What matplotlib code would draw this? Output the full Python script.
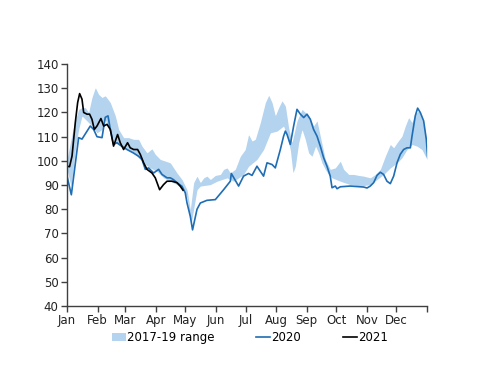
import numpy as np
import matplotlib.pyplot as plt

# ----------------------------
# Data (day of year, index value)
# ----------------------------

band_upper_days = [0, 6.8, 11.8, 15.2, 18.6, 21.9, 25.3, 28.7, 32, 35.5, 38.8, 43.9, 49, 52.4,
                   57.4, 62.5, 67.6, 72.6, 76, 81.1, 86.1, 89.5, 94.6, 99.7, 104.7, 111.5,
                   116.6, 121.7, 125, 128.4, 131.8, 135.2, 138.6, 141.9, 145.3, 150.4, 155.5,
                   158.8, 162.3, 165.6, 170.6, 175.7, 180.7, 184.1, 187.6, 190.9, 196, 201.1,
                   204.5, 207.9, 211.2, 214.6, 218, 221.4, 224.7, 228.1, 233.2, 238.3, 241.6,
                   245, 250, 253.5, 256.8, 261.9, 266.9, 272, 277.1, 280.5, 285.6, 290.6,
                   295.6, 300.7, 307.5, 312.6, 317.7, 322.7, 327.8, 331.2, 334.6, 339.6, 343,
                   346.4, 349.8, 353.1, 356.5, 359.9, 363.3, 365.6]
band_upper = [100.6, 114.4, 121.3, 122, 122, 120, 126.2, 130.3, 127.5, 126.2, 126.9, 124.1,
              118.6, 113, 109.6, 109.6, 108.9, 108.9, 106.1, 103.3, 105, 102.7, 100.6, 99.9,
              99.2, 95, 92.3, 88.1, 79.8, 91, 93.7, 91, 93, 93.7, 92.3, 94, 94.4, 96.5, 97.1,
              95, 96.5, 101.9, 104.7, 110.9, 108.2, 108.9, 115.8, 124.1, 127.1, 124.1,
              118.6, 122, 124.8, 122.7, 113.7, 107.5, 116.5, 121.3, 120, 118.6, 114.4,
              116.5, 110.2, 100.6, 96.5, 97.1, 99.9, 96.5, 94.4, 94.4, 94, 93.7, 93, 94.4,
              96.5, 101.9, 106.8, 105.4, 107.5, 110.2, 114.4, 117.9, 115.8, 119.3, 120.7,
              117.2, 111.6, 104.7]

band_lower_days = [0, 4.1, 8.4, 11.8, 15.2, 20.3, 25.3, 30.4, 35.5, 38.8, 43.9, 49, 54, 60.8,
                   67.6, 74.3, 79.4, 84.5, 91.2, 98, 104.7, 111.5, 118.3, 121.7, 124.3, 126,
                   129.5, 131.8, 135.2, 145.3, 152.1, 162.3, 169, 174, 179, 184.1, 192.6,
                   199.3, 206.2, 212.9, 219.6, 223.1, 226.4, 229.1, 231.5, 234.9, 238.3, 241.6,
                   245, 248.4, 252, 255.1, 258.5, 261.9, 265.3, 268.7, 277.1, 287.2, 297.4,
                   307.5, 314.3, 321, 327.8, 334.6, 339.6, 344.7, 349.8, 354.8, 359.9, 365]
band_lower = [96.5, 89.5, 104.7, 113, 118.6, 116.5, 114.4, 111.6, 113, 117.2, 111.6, 107.5,
              106.1, 104.7, 103.3, 100.6, 98.5, 97.1, 95.7, 93, 91.6, 90.2, 88.1, 84.7, 77.1,
              74.4, 82.7, 88.1, 89.6, 90.2, 91.6, 93, 91.6, 93, 94.4, 97.8, 100.6, 104.7,
              111.6, 112.3, 114.4, 110.2, 104.7, 95, 97.8, 107.5, 113, 108.9, 103.3, 101.9,
              106.1, 103.3, 99.2, 96.5, 94.4, 93, 91.6, 90.2, 89.6, 90.2, 92.3, 94.4, 97.1,
              99.2, 101.3, 104.7, 106.8, 106.1, 104.7, 100.6]

days_2020 = [0, 4.4, 11.8, 15.2, 23.6, 27, 30.4, 35.5, 38.8, 41.6, 43.9, 47.2, 50.7, 54,
             60.8, 67.2, 72.6, 76, 79.4, 82.7, 87.8, 92.9, 96.3, 101.4, 104.7, 107.8, 111.5,
             116.6, 119.9, 121.7, 125, 127.3, 131.8, 135.2, 141.9, 150.4, 158.8, 165.6, 166.6,
             174, 179, 184.1, 187.6, 192.6, 196, 199.3, 202.8, 207.9, 211.2, 216.3, 219.6,
             221.4, 223.1, 226.4, 229.8, 233.2, 236.6, 240, 243.3, 246.7, 250, 253.5, 256.8,
             260.2, 263.6, 266.9, 268.7, 272, 273.8, 277.1, 287.2, 300.7, 304.2, 307.5, 310.9,
             314.3, 317.7, 321, 324.4, 327.8, 331.2, 334.6, 337.9, 341.3, 344.7, 348.1, 349.8,
             353.1, 355.5, 358.2, 361.6, 364.3, 365.6]
values_2020 = [93.7, 86, 109.6, 109, 114.4, 113, 110, 109.6, 118, 118.6, 113, 106.8, 107.5,
               106.5, 104.7, 103.3, 101.9, 100.6, 96.5, 97.1, 95, 96.5, 94.4, 93, 93, 92.3, 91,
               89.5, 86.8, 82.6, 77.1, 71.5, 80, 82.6, 83.7, 84, 88.1, 91.6, 94.8, 89.6, 93.7,
               94.8, 94, 97.8, 95.7, 93.7, 99.2, 98.5, 97.1, 104.7, 110.2, 112.3, 110.9, 106.8,
               114.4, 121.3, 119.3, 117.9, 119.3, 117.2, 113, 110.2, 106.1, 101.3, 97.8, 93.7,
               88.9, 89.6, 88.5, 89.3, 89.6, 89.2, 88.8, 89.6, 91, 94, 95.3, 94.4, 91.6, 90.6,
               93.7, 99.2, 102.7, 104.7, 105.4, 105.4, 110.2, 118.6, 121.8, 120, 116.5, 108.9,
               101.9]

days_2021 = [0, 2.6, 5.1, 8.4, 10.8, 12.8, 15.2, 16.9, 20.3, 22.9, 25.3, 27.7, 30.4, 34.4,
             37.2, 40.6, 43.9, 47.2, 51.3, 54, 57.4, 61.4, 64.1, 67.6, 71.6, 74.3, 77.7, 81.1,
             86.1, 89.5, 93.9, 97.9, 101.4, 106.4, 111.5, 114.9, 117.6]
values_2021 = [97.8, 97.6, 102, 115.8, 124.1, 127.8, 125.5, 120, 119.3, 119.3, 117.2, 113,
               114.4, 117.5, 114.4, 115.1, 113, 106.1, 110.9, 107.5, 104.7, 107.5, 105.4, 104.7,
               104.7, 102.7, 99.2, 96.5, 95, 93, 88.1, 90.2, 91.6, 91.6, 91, 89.5, 87.9]

month_labels = ["Jan", "Feb", "Mar", "Apr", "May", "Jun",
                "Jul", "Aug", "Sep", "Oct", "Nov", "Dec"]
month_starts = [0, 31, 59, 90, 120, 151, 181, 212, 243, 273, 304, 334]


# ----------------------------
# Plot
# ----------------------------

plt.rcParams["font.family"] = "DejaVu Sans"
plt.rcParams["font.size"] = 8.5

fig = plt.figure(figsize=(5.0, 3.86), dpi=100)
ax = fig.add_axes([0.134, 0.207, 0.72, 0.627])

# band on a common day grid
grid = np.linspace(0, 365, 731)
up = np.interp(grid, band_upper_days, band_upper)
lo = np.interp(grid, band_lower_days, band_lower)
ax.fill_between(grid, np.minimum(lo, up), np.maximum(lo, up),
                color="#b3d3ee", linewidth=0, label="2017-19 range")

ax.plot(days_2020, values_2020, color="#1f6db4", lw=1.2, label="2020")
ax.plot(days_2021, values_2021, color="black", lw=1.2, label="2021")

ax.set_xlim(0, 365)
ax.set_ylim(40, 140)
ax.set_yticks(range(40, 141, 10))
ax.set_xticks(month_starts + [365])
ax.set_xticklabels(month_labels + [""])

for s in ["top", "right"]:
    ax.spines[s].set_visible(False)
for s in ["left", "bottom"]:
    ax.spines[s].set_color("#404040")
    ax.spines[s].set_linewidth(1.0)
ax.tick_params(axis="both", direction="out", length=4, width=1.0,
               color="#404040", labelcolor="#222222", pad=2)

fig.legend(loc="center", bbox_to_anchor=(0.5, 0.125), ncol=3, frameon=False,
           handlelength=1.2, handletextpad=0.1, columnspacing=3.5,
           fontsize=8.5)

fig.savefig("out.png", dpi=100)
